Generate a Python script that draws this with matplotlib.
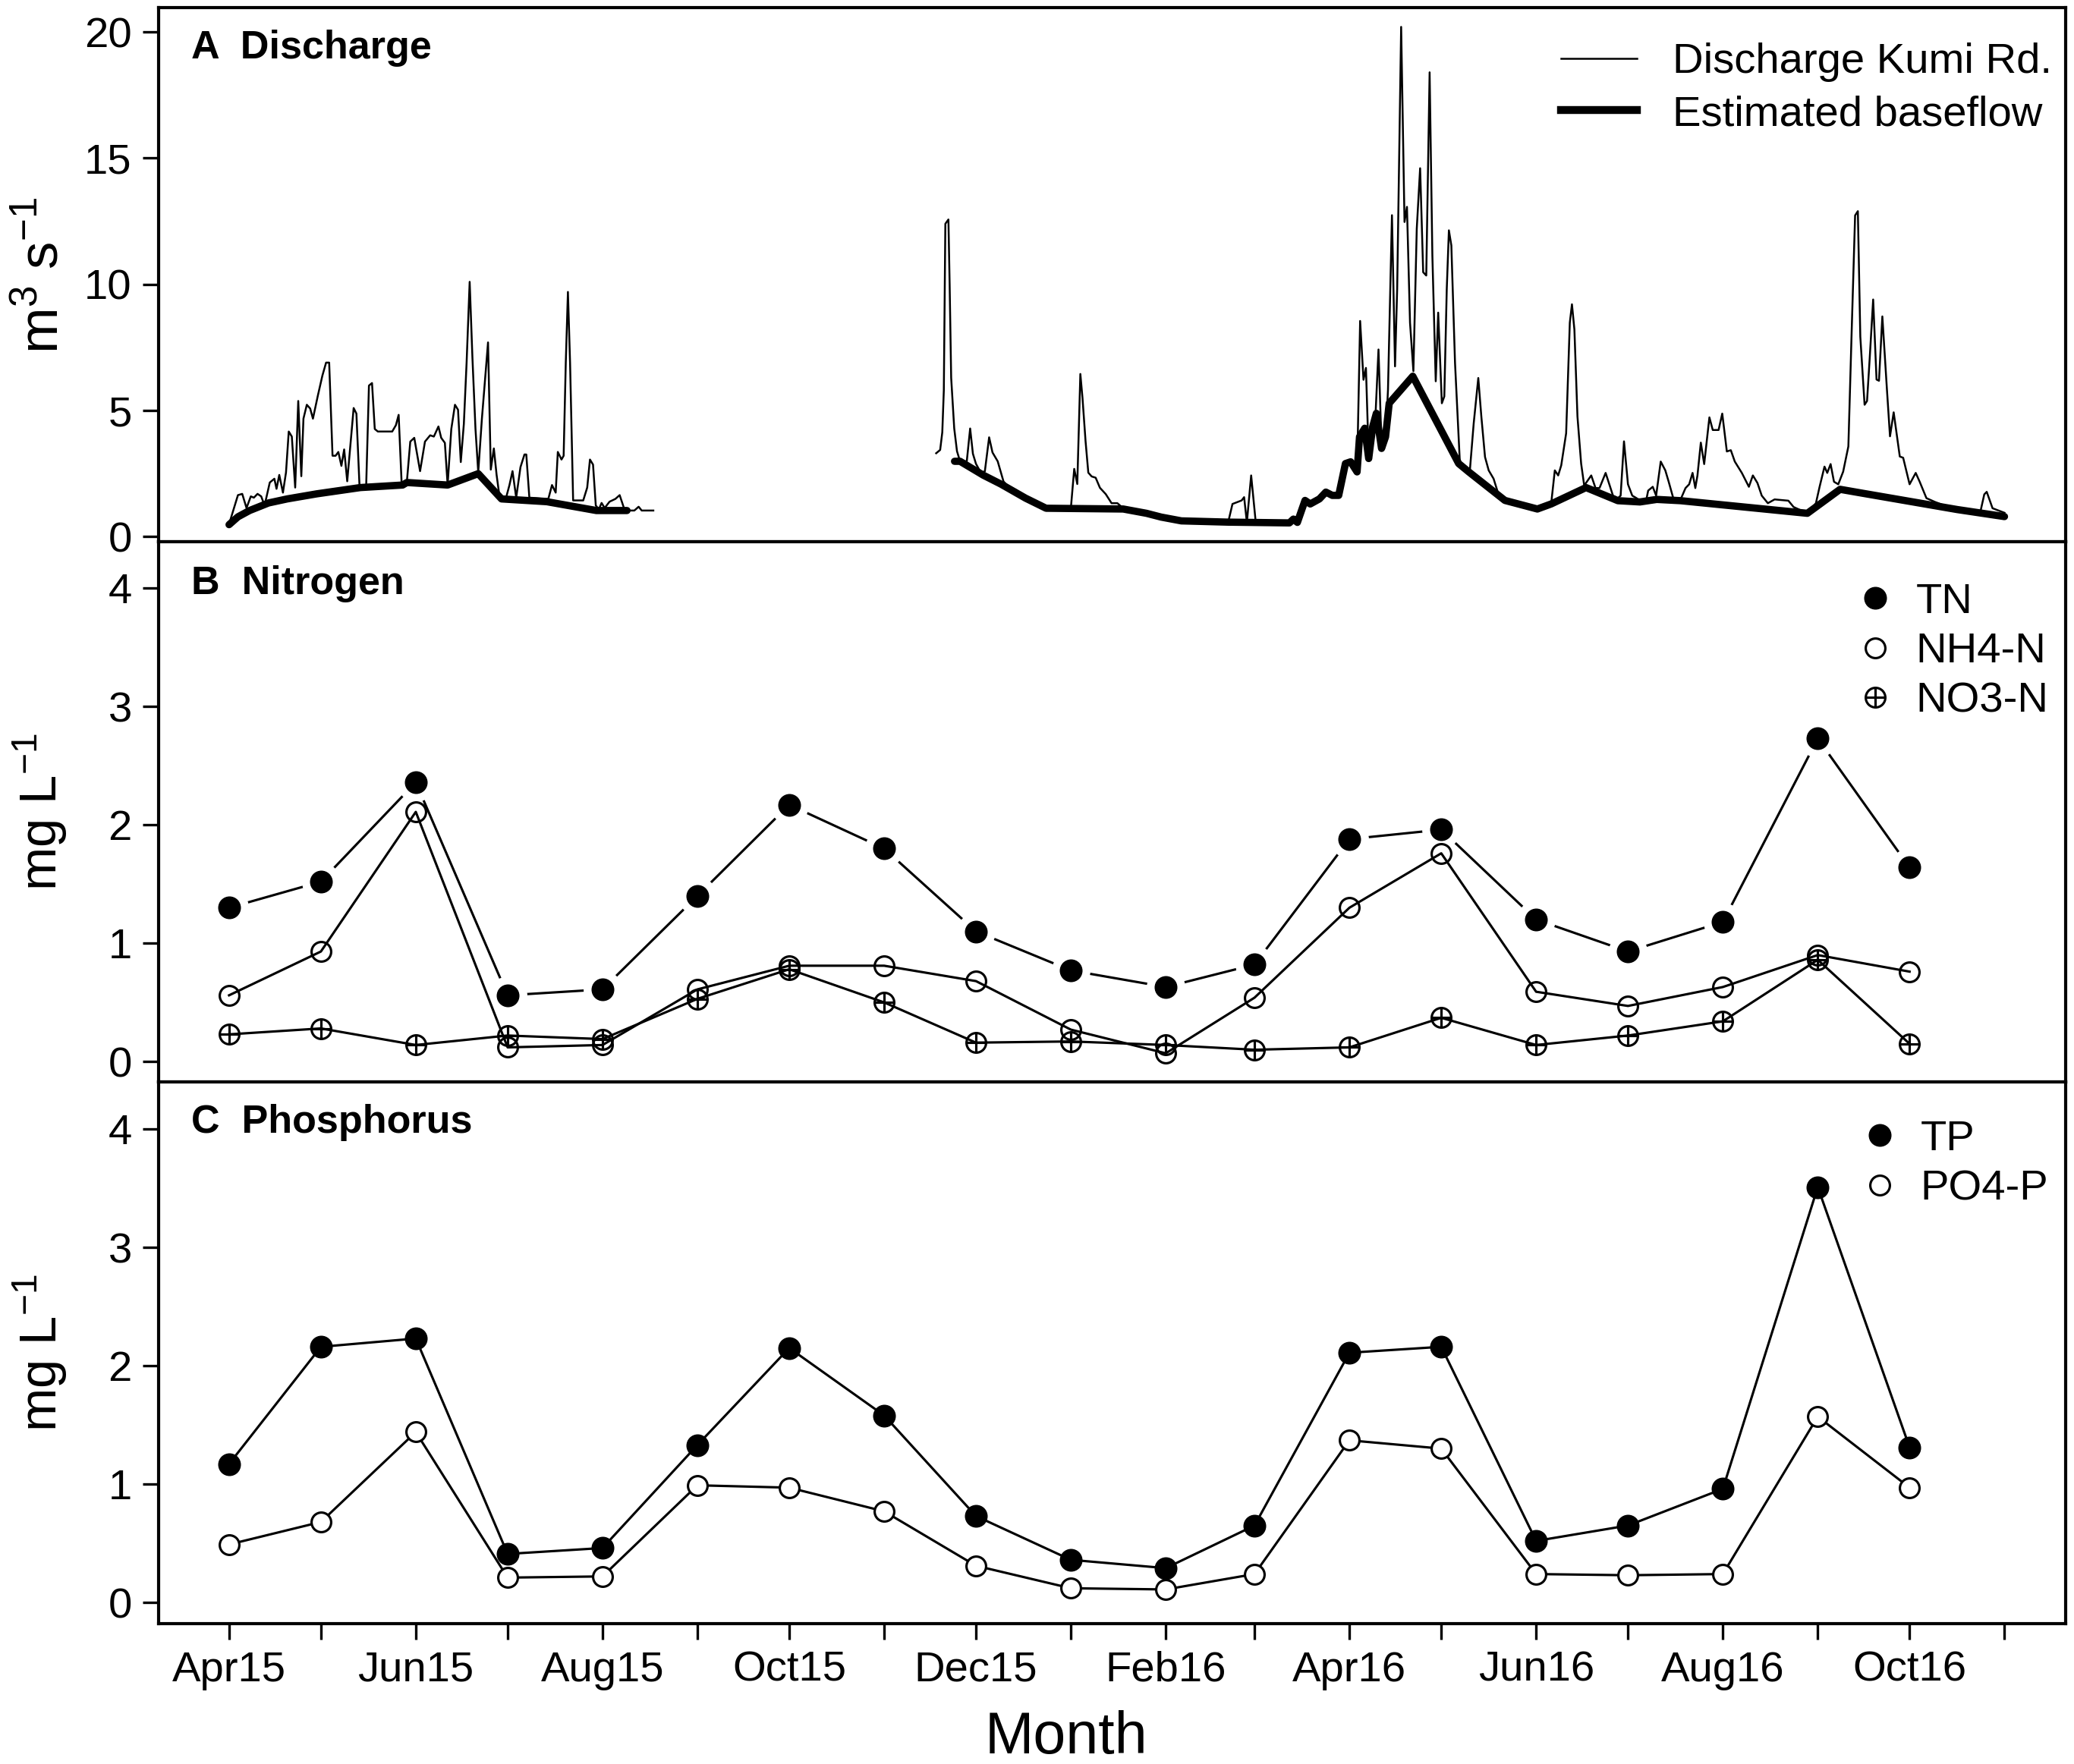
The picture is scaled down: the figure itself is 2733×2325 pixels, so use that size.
import numpy as np
import pandas as pd
import matplotlib
matplotlib.use("Agg")
import matplotlib.pyplot as plt
import matplotlib.dates as mdates
from matplotlib.path import Path
from matplotlib.lines import Line2D

plt.rcParams['font.family'] = ['Liberation Sans', 'DejaVu Sans']
plt.rcParams['mathtext.fontset'] = 'custom'
plt.rcParams['mathtext.rm'] = 'Liberation Sans'
plt.rcParams['mathtext.it'] = 'Liberation Sans'
plt.rcParams['mathtext.default'] = 'regular'

q1_day = [0, 2.9, 4.3, 5.7, 7.1, 8.1, 9.3, 10.5, 11.6, 13.3, 14.8, 15.5, 16.4, 17.6, 18.6,
          19.5, 20.5, 21.6, 22.6, 23.6, 24.3, 25.4, 26.5, 27.4, 29.0, 30.5, 31.7, 32.7, 33.8,
          34.8, 35.7, 36.7, 37.6, 38.6, 40.7, 41.6, 42.6, 43.8, 44.8, 45.7, 46.7, 47.6, 48.6,
          53.3, 54.5, 55.4, 56.4, 58.1, 59.2, 60.5, 62.4, 64.0, 65.7, 66.9, 68.4, 69.3, 70.5,
          71.4, 72.6, 73.8, 74.8, 75.7, 76.7, 77.6, 78.6, 79.5, 80.5, 81.4, 82.6, 84.6, 85.5,
          86.5, 87.4, 88.4, 90.5, 91.6, 92.6, 93.8, 95.2, 96.5, 97.1, 98.1, 104.3, 105.5, 106.7,
          107.4, 108.6, 109.3, 110.0, 110.7, 111.4, 112.4, 115.7, 117.0, 117.9, 118.9, 119.8,
          120.8, 121.7, 122.7, 124.3, 126.2, 127.6, 129.0, 130.5, 132.4, 133.8, 134.8, 138.6]
q1_val = [0.5, 1.65, 1.7, 1.14, 1.6, 1.55, 1.7, 1.6, 1.24, 2.15, 2.3, 1.9, 2.45, 1.75, 2.55,
          4.17, 3.97, 1.95, 5.38, 2.4, 4.68, 5.23, 5.08, 4.68, 5.59, 6.39, 6.9, 6.9, 3.21,
          3.21, 3.36, 2.81, 3.46, 2.2, 5.1, 4.88, 2.05, 2.0, 2.05, 5.99, 6.09, 4.27, 4.17,
          4.17, 4.42, 4.83, 2.05, 2.2, 3.77, 3.92, 2.6, 3.77, 4.02, 3.97, 4.37, 3.92, 3.72,
          2.05, 4.27, 5.23, 5.03, 2.96, 4.47, 6.9, 10.1, 7.1, 4.27, 2.56, 4.68, 7.7, 2.66,
          3.5, 2.45, 1.55, 1.55, 2.05, 2.6, 1.55, 2.76, 3.26, 3.26, 1.55, 1.5, 2.05, 1.75,
          3.36, 3.06, 3.21, 6.9, 9.7, 6.9, 1.44, 1.44, 1.95, 3.06, 2.86, 1.24,
          1.09, 1.34, 1.14, 1.39, 1.5, 1.65, 1.14, 1.04, 1.04, 1.19, 1.04, 1.04]

q2_day = [231, 232.3, 233, 233.5, 234, 235, 235.4, 235.9, 236.9, 237.8, 238.8, 241, 242.1, 243,
          244, 245.6, 246.9, 248.3, 249.4, 251.1, 253, 255, 257.3, 260.2, 263.5, 266.9, 275,
          276.1, 277.1, 278.1, 278.8, 279.8, 280.7, 281.8, 283.1, 284.5, 286.4, 288.3, 290.2,
          292.1, 299.7, 304.5, 311.1, 326.4, 327.8, 330.8, 331.6, 332.5, 333.9, 335.4, 338.8,
          346.4, 347.7, 349.4, 351.5, 353.2, 356.2, 358.3, 360.4, 362.5, 364.7, 366.4, 367.6,
          368.5, 369.5, 370.6, 371.4, 372.3, 373.1, 374.4, 375.5, 376.5, 377.8, 378.6, 379.9,
          380.9, 381.6, 382.9, 384, 384.8, 385.8, 386.9, 388, 389.1, 390.1, 391.1, 392.2,
          393.1, 394.2, 395.0, 396.2, 397.0, 397.8, 398.5, 399.3, 400.5, 402.1, 403.7, 405.4,
          406.6, 408.1, 409.1, 410.3, 411.5, 413.1, 414.8, 416.8, 422.1, 427.4, 431.9, 433.1,
          434.2, 435.2, 436.8, 438, 438.7, 439.5, 440.5, 441.7, 442.7, 445, 446.4, 447.7,
          449.7, 452.1, 453.7, 454.6, 455.7, 457, 458.4, 459.8, 461.4, 463.1, 463.6, 465.1,
          466.2, 467.7, 469.2, 470.3, 471.8, 474.2, 475.8, 477, 478.1, 479, 479.7, 480.8,
          481.9, 483.6, 484.7, 486.6, 487.8, 489.3, 490.6, 491.9, 494.2, 496.5, 497.8, 499.3,
          500.7, 502.7, 504.9, 509.4, 511.1, 515.6, 518.4, 519.6, 521.2, 522.1, 523.2, 524.3,
          525.7, 527.3, 529, 530.1, 531.2, 532.1, 532.9, 534.3, 535.1, 536, 537.1, 538.2,
          539, 540.1, 541.6, 542.6, 543.8, 545.8, 546.9, 549, 551, 552.3, 554.5, 557.3,
          559.5, 562.8, 572.2, 573.4, 574.2, 576.1, 580]
q2_val = [3.31, 3.44, 4.14, 5.8, 12.4, 12.57, 10.0, 6.3, 4.29, 3.39, 2.99, 2.99, 4.29, 3.29,
          2.89, 2.54, 2.59, 3.94, 3.34, 2.99, 2.19, 1.94, 1.84, 1.48, 1.33, 1.13, 1.13,
          2.69, 2.09, 6.45, 5.5, 3.79, 2.54, 2.39, 2.34, 1.94, 1.69, 1.33, 1.33,
          1.13, 0.93, 0.78, 0.63, 0.58, 1.3, 1.44, 1.57, 0.57, 2.43, 0.57, 0.61,
          0.55, 0.77, 0.57, 1.44, 1.3, 1.5, 1.77, 1.64, 1.64, 2.9, 2.97, 2.63,
          2.57, 8.55, 6.22, 6.69, 3.16, 3.83, 4.49, 7.42, 3.56, 3.83, 5.82, 12.74,
          6.75, 9.81, 20.2, 12.47, 13.07, 8.48, 6.56, 12.2, 14.6, 10.48, 10.35, 18.4,
          11.14, 6.16, 8.88, 5.29, 5.56, 9.81, 12.14, 11.54, 6.89, 2.9, 2.63, 2.7,
          4.49, 6.29, 4.76, 3.16, 2.63, 2.3, 1.64, 1.44, 1.3, 1.1, 1.3, 2.63,
          2.43, 2.83, 4.1, 8.48, 9.21, 8.21, 4.76, 2.9, 2.03, 2.43, 1.93, 1.93,
          2.53, 1.63, 1.53, 1.63, 3.78, 2.08, 1.63, 1.53, 1.38, 1.53, 1.83, 1.98,
          1.63, 2.98, 2.63, 2.18, 1.53, 1.48, 1.93, 2.08, 2.53, 1.93, 2.43, 3.73,
          2.88, 4.73, 4.23, 4.23, 4.88, 3.38, 3.43, 2.98, 2.53, 1.98, 2.43, 2.13,
          1.63, 1.33, 1.48, 1.43, 1.18, 0.93, 1.33, 1.98, 2.78, 2.53, 2.88, 2.18,
          2.08, 2.58, 3.58, 8.23, 12.73, 12.9, 7.93, 5.23, 5.38, 7.13, 9.4, 6.23,
          6.18, 8.73, 5.83, 3.98, 4.93, 3.18, 3.13, 2.08, 2.53, 2.18, 1.53, 1.38,
          1.28, 1.03, 1.03, 1.68, 1.78, 1.13, 0.95]

b1_day = [0, 2.9, 6.7, 12.9, 19, 28.6, 42.9, 56.7, 58.1, 71.4, 81.4, 89, 103.8, 120, 130]
b1_val = [0.48, 0.79, 1.04, 1.34, 1.5, 1.7, 1.95, 2.05, 2.15, 2.05, 2.5, 1.5, 1.39, 1.04, 1.04]

b2_day = [237, 238.8, 246.4, 252.1, 255, 260.2, 266.9, 292.1, 299.7, 304.5, 311.1, 326.4,
          346.4, 347.7, 349, 351.5, 353.2, 356.2, 358.3, 360.4, 362.5, 364.7, 366.4, 368.5,
          369.3, 371, 372.3, 373.6, 374.8, 376.5, 377.8, 379, 386.7, 401.7, 405, 416.8,
          427.4, 431.9, 443.3, 453.7, 460.9, 466.4, 474.2, 515.6, 526.3, 533.4, 564.5, 580]
b2_val = [2.99, 2.99, 2.44, 2.09, 1.89, 1.53, 1.13, 1.1, 0.93, 0.78, 0.63, 0.58,
          0.55, 0.7, 0.57, 1.44, 1.3, 1.5, 1.77, 1.64, 1.64, 2.9, 2.97, 2.57,
          3.96, 4.3, 3.1, 4.36, 4.89, 3.5, 3.96, 5.29, 6.36, 2.9, 2.57, 1.44,
          1.1, 1.3, 1.95, 1.43, 1.38, 1.48, 1.43, 0.93, 1.88, 1.73, 1.08, 0.8]

# ---- monthly samples (Apr 2015 - Oct 2016) ----
sample_months = pd.date_range('2015-04-01', periods=19, freq='MS')
tn  = [1.30, 1.52, 2.36, 0.56, 0.61, 1.40, 2.17, 1.80, 1.10, 0.77, 0.63, 0.82, 1.88, 1.96, 1.20, 0.93, 1.18, 2.73, 1.64]
nh4 = [0.56, 0.93, 2.11, 0.12, 0.14, 0.61, 0.81, 0.81, 0.68, 0.27, 0.07, 0.54, 1.30, 1.76, 0.59, 0.47, 0.63, 0.90, 0.76]
no3 = [0.23, 0.28, 0.14, 0.22, 0.19, 0.53, 0.78, 0.50, 0.16, 0.17, 0.14, 0.10, 0.12, 0.37, 0.14, 0.22, 0.34, 0.86, 0.15]
tp  = [1.17, 2.16, 2.23, 0.41, 0.46, 1.33, 2.15, 1.58, 0.73, 0.36, 0.29, 0.65, 2.11, 2.16, 0.52, 0.65, 0.96, 3.51, 1.31]
po4 = [0.49, 0.68, 1.44, 0.21, 0.22, 0.99, 0.97, 0.77, 0.31, 0.12, 0.11, 0.24, 1.37, 1.30, 0.24, 0.23, 0.24, 1.57, 0.97]

start = mdates.date2num(pd.Timestamp('2015-04-01'))
xs = mdates.date2num(sample_months)

# circle with a plus inside (R pch 10)
circ_plus = Path.make_compound_path(
    Path.unit_circle(),
    Path([(-1, 0), (1, 0)], [Path.MOVETO, Path.LINETO]),
    Path([(0, -1), (0, 1)], [Path.MOVETO, Path.LINETO]))

fig = plt.figure(figsize=(2733 / 300, 2325 / 300), dpi=300)
left, width = 0.0765, 0.9195
axA = fig.add_axes([left, 0.6927, width, 0.3028])
axB = fig.add_axes([left, 0.3868, width, 0.3059])
axC = fig.add_axes([left, 0.0795, width, 0.3073])

ms = 6.2
lw = 0.75
fs_leg = 13.5
fs_title = 12.5

# A: discharge
axA.plot(start + np.array(q1_day), q1_val, color='black', lw=0.6)
axA.plot(start + np.array(q2_day), q2_val, color='black', lw=0.6)
axA.plot(start + np.array(b1_day), b1_val, color='black', lw=2.3, solid_capstyle='round')
axA.plot(start + np.array(b2_day), b2_val, color='black', lw=2.3, solid_capstyle='round')
axA.set_ylim(-0.21, 20.95)
axA.set_yticks([0, 5, 10, 15, 20])
axA.set_ylabel('m$^{3}$ s$^{-1}$', fontsize=17.5)
axA.text(0.017, 0.925, 'A  Discharge', transform=axA.transAxes, fontsize=fs_title,
         fontweight='bold', va='center', ha='left')
hA = [Line2D([], [], color='black', lw=0.6), Line2D([], [], color='black', lw=2.5)]
axA.legend(hA, ['Discharge Kumi Rd.', 'Estimated baseflow'], loc='upper right',
           bbox_to_anchor=(0.993, 0.935), frameon=False, fontsize=fs_leg, borderpad=0,
           borderaxespad=0, handlelength=1.78, handletextpad=0.84, labelspacing=0.3)

# B: nitrogen
axB.plot(xs, tn, color='black', lw=lw, zorder=2)
axB.plot(xs, tn, ls='none', marker='o', ms=ms + 5, mfc='white', mec='white', zorder=2.5)
axB.plot(xs, nh4, color='black', lw=lw, marker='o', ms=ms, mfc='none', mec='black',
         mew=0.75, zorder=3)
axB.plot(xs, no3, color='black', lw=lw, marker=circ_plus, ms=ms, mfc='none', mec='black',
         mew=0.75, zorder=3)
axB.plot(xs, tn, ls='none', marker='o', ms=ms, color='black', zorder=4)
axB.set_ylim(-0.17, 4.39)
axB.set_yticks([0, 1, 2, 3, 4])
axB.set_ylabel('mg L$^{-1}$', fontsize=16.5)
axB.text(0.017, 0.922, 'B  Nitrogen', transform=axB.transAxes, fontsize=fs_title,
         fontweight='bold', va='center', ha='left')
hB = [Line2D([], [], ls='none', marker='o', ms=ms, color='black'),
      Line2D([], [], ls='none', marker='o', ms=ms, mfc='none', mec='black', mew=0.75),
      Line2D([], [], ls='none', marker=circ_plus, ms=ms, mfc='none', mec='black', mew=0.75)]
axB.legend(hB, ['TN', 'NH4-N', 'NO3-N'], loc='upper right', bbox_to_anchor=(0.991, 0.925),
           frameon=False, fontsize=fs_leg, borderpad=0, borderaxespad=0, handlelength=0.9,
           handletextpad=0.5, labelspacing=0.24)

# C: phosphorus
axC.plot(xs, tp, color='black', lw=lw, marker='o', ms=ms, zorder=3)
axC.plot(xs, po4, color='black', lw=lw, marker='o', ms=ms, mfc='white', mec='black',
         mew=0.75, zorder=3)
axC.set_ylim(-0.18, 4.40)
axC.set_yticks([0, 1, 2, 3, 4])
axC.set_ylabel('mg L$^{-1}$', fontsize=16.5)
axC.text(0.017, 0.925, 'C  Phosphorus', transform=axC.transAxes, fontsize=fs_title,
         fontweight='bold', va='center', ha='left')
hC = [Line2D([], [], ls='none', marker='o', ms=ms, color='black'),
      Line2D([], [], ls='none', marker='o', ms=ms, mfc='none', mec='black', mew=0.75)]
axC.legend(hC, ['TP', 'PO4-P'], loc='upper right', bbox_to_anchor=(0.991, 0.93),
           frameon=False, fontsize=fs_leg, borderpad=0, borderaxespad=0, handlelength=0.9,
           handletextpad=0.5, labelspacing=0.24)


def month_label(x, pos):
    d = mdates.num2date(x)
    return d.strftime('%b%y') if d.month % 2 == 0 else ''


for ax in (axA, axB, axC):
    ax.set_xlim(mdates.date2num(pd.Timestamp('2015-03-09')),
                mdates.date2num(pd.Timestamp('2016-11-21')))
    ax.xaxis.set_major_locator(mdates.MonthLocator())
    ax.xaxis.set_major_formatter(plt.FuncFormatter(month_label))
    ax.tick_params(direction='out', length=5, width=0.8, labelsize=13.5)
    ax.yaxis.set_label_coords(-0.047, 0.5)
    for s in ax.spines.values():
        s.set_linewidth(1.0)

axA.tick_params(axis='x', labelbottom=False)
axB.tick_params(axis='x', labelbottom=False)

fig.text(0.514, 0.015, 'Month', fontsize=18.5, ha='center', va='center')

fig.savefig('out.png', dpi=300)
